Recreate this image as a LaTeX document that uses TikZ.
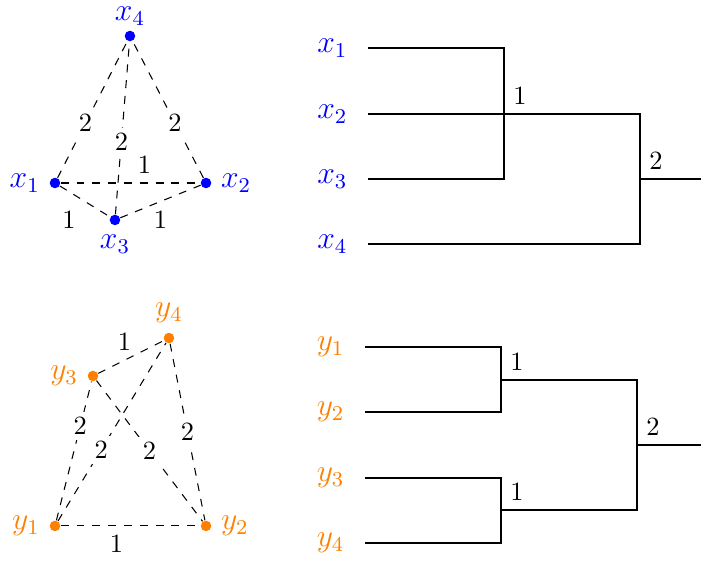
\documentclass[tikz,border=0pt]{standalone}
\usetikzlibrary{positioning}
\definecolor{xblue}{rgb}{0,0,1}
\definecolor{yorange}{rgb}{1,0.5,0}

\begin{document}
\begin{tikzpicture}[
  vert/.style={circle, inner sep=0pt, minimum size=4pt},
  xv/.style={vert, fill=xblue},
  yv/.style={vert, fill=yorange},
  every label/.style={label distance=0pt, font=\large},
  wt/.style={fill=white, inner sep=2pt},
  link/.style={dashed},
  tree/.style={thick}]
  \useasboundingbox (0,0) rectangle (9.347,7.48);

  % weighted graph on x
  \node[xv, label={[text=xblue, inner sep=0pt, label distance=1.5pt]above:$x_4$}] (x4) at (1.733,7.0) {};
  \node[xv, label={[text=xblue]left:$x_1$}] (x1) at (0.733,5.04) {};
  \node[xv, label={[text=xblue]right:$x_2$}] (x2) at (2.747,5.04) {};
  \node[xv, label={[text=xblue]below:$x_3$}] (x3) at (1.533,4.547) {};
  \draw[link] (x1) -- node[wt, pos=0.4] (w14) {2} (x4);
  \draw[link] (x2) -- node[wt, pos=0.4] (w24) {2} (x4);
  \draw[link] (x3) -- node[wt, pos=0.42] (w34) {2} (x4);
  \draw[link] (x1) -- node[above, pos=0.6] (w12) {1} (x2);
  \draw[link] (x1) -- node[below left] (w13) {1} (x3);
  \draw[link] (x3) -- node[below] (w23) {1} (x2);

  % weighted graph on y
  \node[yv, label={[text=yorange]above:$y_4$}] (y4) at (2.253,2.973) {};
  \node[yv, label={[text=yorange]left:$y_3$}] (y3) at (1.24,2.467) {};
  \node[yv, label={[text=yorange]left:$y_1$}] (y1) at (0.733,0.467) {};
  \node[yv, label={[text=yorange]right:$y_2$}] (y2) at (2.747,0.467) {};
  \draw[link] (y3) -- node[above, pos=0.4] (v34) {1} (y4);
  \draw[link] (y1) -- node[wt, pos=0.68] (v13) {2} (y3);
  \draw[link] (y1) -- node[wt, pos=0.4] (v14) {2} (y4);
  \draw[link] (y3) -- node[wt] (v23) {2} (y2);
  \draw[link] (y4) -- node[wt] (v24) {2} (y2);
  \draw[link] (y1) -- node[below, pos=0.4] (v12) {1} (y2);

  % dendrogram of x
  \coordinate (a1) at (4.907,6.84);
  \coordinate (a2) at (4.907,5.96);
  \coordinate (a3) at (4.907,5.093);
  \coordinate (a4) at (4.907,4.227);
  \coordinate (m1) at (6.72,5.96);
  \coordinate (m2) at (8.533,5.093);
  \coordinate (mr) at (9.347,5.093);
  \foreach \i in {1,...,4}
    \node[left=1.5mm of a\i, text=xblue, font=\large] (lx\i) {$x_{\i}$};
  \draw[tree] (a1) -| (m1) |- (a3);
  \draw[tree] (a2) -| (m2) |- (a4);
  \draw[tree] (m2) -- (mr);
  \node[above right] (h1) at (m1) {1};
  \node[above right] (h2) at (m2) {2};

  % dendrogram of y
  \coordinate (b1) at (4.867,2.853);
  \coordinate (b2) at (4.867,1.987);
  \coordinate (b3) at (4.867,1.107);
  \coordinate (b4) at (4.867,0.24);
  \coordinate (n1) at (6.68,2.413);
  \coordinate (n2) at (6.68,0.68);
  \coordinate (n3) at (8.493,1.547);
  \coordinate (nr) at (9.347,1.547);
  \foreach \i in {1,...,4}
    \node[left=1.5mm of b\i, text=yorange, font=\large] (ly\i) {$y_{\i}$};
  \draw[tree] (b1) -| (n1) |- (b2);
  \draw[tree] (b3) -| (n2) |- (b4);
  \draw[tree] (n1) -| (n3) |- (n2);
  \draw[tree] (n3) -- (nr);
  \node[above right] (k1) at (n1) {1};
  \node[above right] (k2) at (n2) {1};
  \node[above right] (k3) at (n3) {2};
\end{tikzpicture}
\end{document}
